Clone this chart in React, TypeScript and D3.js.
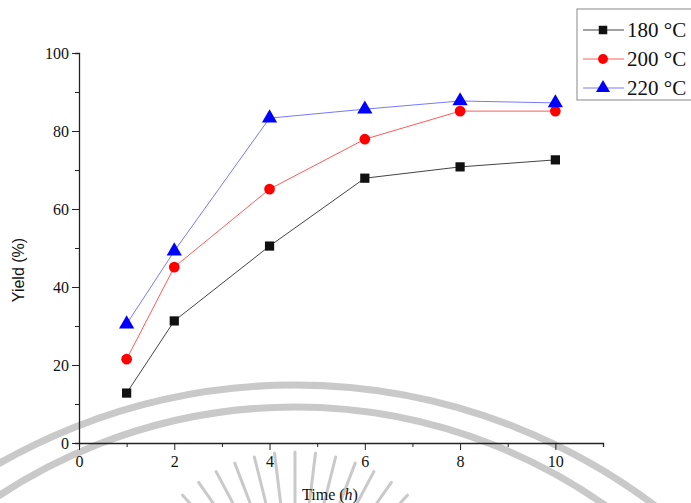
import React from 'react';
import * as d3 from 'd3';

const times = [1, 2, 4, 6, 8, 10];
const yield180 = [12.8, 31.3, 50.5, 67.9, 70.8, 72.6];
const yield200 = [21.5, 45.1, 65.1, 77.9, 85.1, 85.1];
const yield220 = [30.5, 49.2, 83.3, 85.6, 87.7, 87.2];
const seriesNames = ['180 °C', '200 °C', '220 °C'];
const xTicks = [0, 2, 4, 6, 8, 10];
const yTicks = [0, 20, 40, 60, 80, 100];

const W = 691;
const H = 503;
const margin = { left: 79, right: 88, top: 53, bottom: 60 };

function App() {
  const ref = React.useRef<SVGSVGElement>(null);

  React.useEffect(() => {
    const svg = d3.select(ref.current);
    svg.selectAll('*').remove();

    const x = d3.scaleLinear().domain([0, 11]).range([margin.left, W - margin.right]);
    const y = d3.scaleLinear().domain([0, 100]).range([H - margin.bottom, margin.top]);

    // faint watermark behind the chart
    const wm = svg.append('g').attr('fill', 'none').attr('stroke', '#c9c9c9');
    wm.append('circle').attr('cx', 295).attr('cy', 982).attr('r', 597).attr('stroke-width', 7);
    wm.append('circle').attr('cx', 295).attr('cy', 945).attr('r', 538).attr('stroke-width', 7);
    d3.range(-70, 71, 7).forEach(a => {
      const r = (a * Math.PI) / 180;
      wm.append('line')
        .attr('x1', 295 + 118 * Math.sin(r)).attr('y1', 620 - 118 * Math.cos(r))
        .attr('x2', 295 + 168 * Math.sin(r)).attr('y2', 620 - 168 * Math.cos(r))
        .attr('stroke-width', 3).attr('stroke-linecap', 'round');
    });

    const serif = 'Liberation Serif, Times New Roman, serif';

    // x axis
    const xAxis = svg.append('g')
      .attr('transform', `translate(0,${y(0)})`)
      .call(d3.axisBottom(x).tickValues(d3.range(0, 12, 1)).tickSize(4).tickFormat(() => ''));
    xAxis.selectAll('.tick line').attr('stroke', '#222');
    xAxis.selectAll('.tick').filter((d: any) => xTicks.includes(d)).select('line').attr('y2', 7);
    xAxis.select('.domain').attr('stroke', '#222').attr('stroke-width', 1.3);
    xAxis.selectAll('.tick').filter((d: any) => xTicks.includes(d))
      .append('text').attr('y', 24).attr('fill', '#111')
      .attr('font-family', serif).attr('font-size', 16).attr('text-anchor', 'middle')
      .text((d: any) => d);

    // y axis
    const yAxis = svg.append('g')
      .attr('transform', `translate(${x(0)},0)`)
      .call(d3.axisLeft(y).tickValues(d3.range(0, 101, 10)).tickSize(4).tickFormat(() => ''));
    yAxis.selectAll('.tick line').attr('stroke', '#222');
    yAxis.selectAll('.tick').filter((d: any) => yTicks.includes(d)).select('line').attr('x2', -7);
    yAxis.select('.domain').attr('stroke', '#222').attr('stroke-width', 1.3);
    yAxis.selectAll('.tick').filter((d: any) => yTicks.includes(d))
      .append('text').attr('x', -10).attr('dy', '0.35em').attr('fill', '#111')
      .attr('font-family', serif).attr('font-size', 16).attr('text-anchor', 'end')
      .text((d: any) => d);

    // axis titles
    const xt = svg.append('text')
      .attr('x', 330).attr('y', 500).attr('text-anchor', 'middle')
      .attr('font-family', serif).attr('font-size', 16).attr('fill', '#111');
    xt.append('tspan').text('Time (');
    xt.append('tspan').attr('font-style', 'italic').text('h');
    xt.append('tspan').text(')');

    svg.append('text')
      .attr('transform', `translate(24,270) rotate(-90)`)
      .attr('text-anchor', 'middle')
      .attr('font-family', 'Liberation Sans, Arial, sans-serif').attr('font-size', 16).attr('fill', '#111')
      .text('Yield (%)');

    const allSeries = [yield180, yield200, yield220];
    const lineColors = ['#444', '#ff5a5a', '#7878ff'];
    const markColors = ['#111', '#ff0000', '#0000ff'];
    const symbols = [d3.symbolSquare, d3.symbolCircle, d3.symbolTriangle];
    const sizes = [85, 90, 100];

    const line = d3.line<number>()
      .x((_, i) => x(times[i]))
      .y(d => y(d));

    allSeries.forEach((vals, s) => {
      svg.append('path')
        .datum(vals)
        .attr('d', line)
        .attr('fill', 'none')
        .attr('stroke', lineColors[s])
        .attr('stroke-width', 1);
      svg.append('g').selectAll('path')
        .data(vals)
        .join('path')
        .attr('transform', (d, i) => `translate(${x(times[i])},${y(d)})`)
        .attr('d', d3.symbol().type(symbols[s]).size(sizes[s])())
        .attr('fill', markColors[s]);
    });

    // legend
    const lg = svg.append('g').attr('transform', 'translate(577,9)');
    lg.append('rect').attr('width', 130).attr('height', 91)
      .attr('fill', 'white').attr('stroke', '#888').attr('stroke-width', 1);
    seriesNames.forEach((name, s) => {
      const ly = 21 + s * 29;
      lg.append('line').attr('x1', 6).attr('x2', 47).attr('y1', ly).attr('y2', ly)
        .attr('stroke', lineColors[s]).attr('stroke-width', 1);
      lg.append('path')
        .attr('transform', `translate(26,${ly})`)
        .attr('d', d3.symbol().type(symbols[s]).size(sizes[s] * 0.85)())
        .attr('fill', markColors[s]);
      lg.append('text').attr('x', 50).attr('y', ly).attr('dy', '0.35em')
        .attr('font-family', serif).attr('font-size', 21).attr('fill', '#111')
        .text(name);
    });
  }, []);

  return (
    <svg ref={ref} width={W} height={H} style={{ position: 'absolute', left: 0, top: 0, background: 'white' }} />
  );
}

export default App;
